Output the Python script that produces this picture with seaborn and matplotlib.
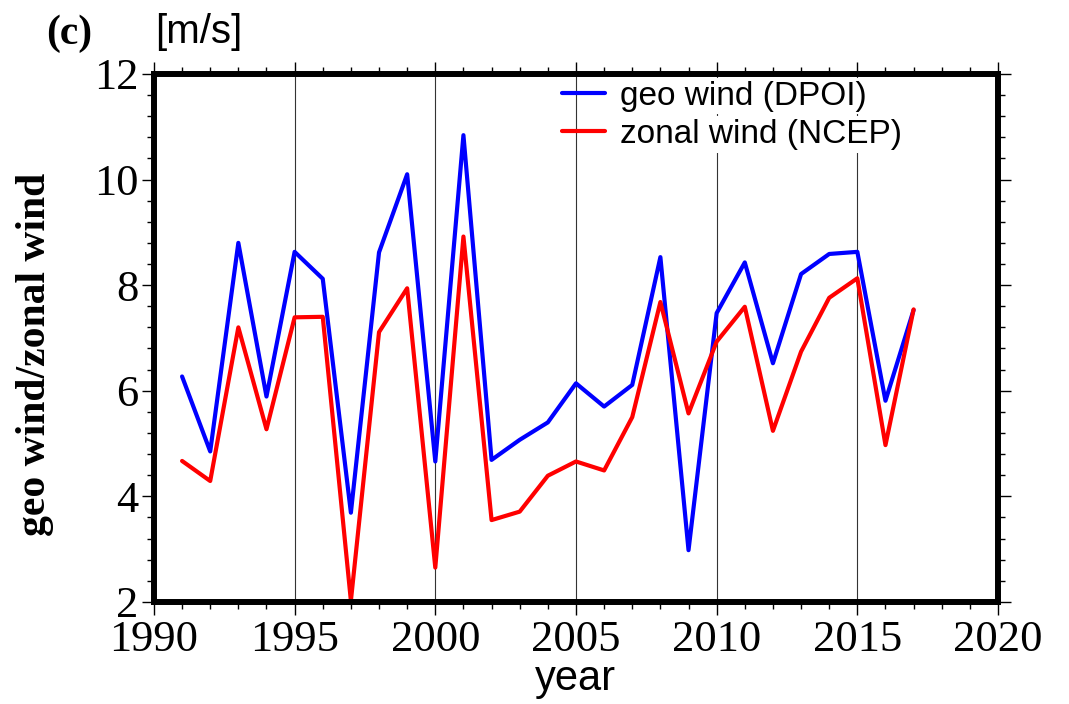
import numpy as np
import pandas as pd
import matplotlib
matplotlib.use("Agg")
import matplotlib.pyplot as plt
from matplotlib.ticker import MultipleLocator
from matplotlib.lines import Line2D
import seaborn as sns

# Annual mean wind speeds [m/s]
years = list(range(1991, 2018))
geo_wind_dpoi = [6.27, 4.85, 8.80, 5.89, 8.63, 8.12, 3.69, 8.62, 10.10, 4.66,
                 10.84, 4.69, 5.07, 5.40, 6.14, 5.70, 6.11, 8.53, 2.98, 7.47,
                 8.43, 6.52, 8.21, 8.59, 8.63, 5.81, 7.53]
zonal_wind_ncep = [4.67, 4.29, 7.20, 5.27, 7.39, 7.40, 2.02, 7.11, 7.94, 2.65,
                   8.92, 3.55, 3.71, 4.39, 4.66, 4.49, 5.50, 7.68, 5.57, 6.93,
                   7.59, 5.24, 6.74, 7.76, 8.13, 4.97, 7.54]
series_labels = ["geo wind (DPOI)", "zonal wind (NCEP)"]
series_colors = ["#0000ff", "#ff0000"]
x_ticks = [1990, 1995, 2000, 2005, 2010, 2015, 2020]
y_ticks = [2, 4, 6, 8, 10, 12]

df = pd.DataFrame({
    "year": years * 2,
    "wind": geo_wind_dpoi + zonal_wind_ncep,
    "series": [series_labels[0]] * len(years) + [series_labels[1]] * len(years),
})

sns.set_theme(style="white")
plt.rcParams["font.family"] = ["Liberation Serif", "DejaVu Serif"]
plt.rcParams.update({
    "text.color": "black",
    "axes.labelcolor": "black",
    "xtick.color": "black",
    "ytick.color": "black",
    "xtick.labelcolor": "black",
    "ytick.labelcolor": "black",
})

fig = plt.figure(figsize=(10.69, 7.04), dpi=100)
ax = fig.add_axes([0.144, 0.145, 0.7896, 0.750])

# vertical guide lines at the major years
for xv in x_ticks[1:-1]:
    ax.axvline(xv, color="#333333", lw=0.8, zorder=1)

sns.lineplot(data=df, x="year", y="wind", hue="series",
             palette=dict(zip(series_labels, series_colors)),
             linewidth=3.0, legend=False, ax=ax, zorder=3)

ax.set_xlim(1990, 2020)
ax.set_ylim(2, 12)
ax.set_xticks(x_ticks)
ax.set_yticks(y_ticks)
ax.xaxis.set_minor_locator(MultipleLocator(1))
ax.yaxis.set_minor_locator(MultipleLocator(0.4))
ax.tick_params(which="both", direction="out", top=True, right=True,
               bottom=True, left=True, color="black", width=1.0)
ax.tick_params(which="major", length=9, labelsize=32, pad=2,
               labelcolor="black")
ax.tick_params(axis="x", which="major", pad=4)
ax.tick_params(which="minor", length=5)
ax.tick_params(axis="y", labelright=False)
ax.tick_params(axis="x", labeltop=False)
for lab in ax.get_xticklabels() + ax.get_yticklabels():
    lab.set_family(["Liberation Serif"])

for sp in ax.spines.values():
    sp.set_visible(True)
    sp.set_color("black")
    sp.set_linewidth(4.3)
    sp.set_zorder(4)

ax.set_xlabel("")
ax.set_ylabel("")
fig.text(0.538, 0.035, "year", ha="center", va="center", fontsize=30,
         color="black", family=["Liberation Sans"])
fig.text(0.033, 0.497, "geo wind/zonal wind", rotation=90, ha="center",
         va="center", fontsize=30, fontweight="bold", color="black",
         family=["Liberation Serif"])
fig.text(0.145, 0.955, "[m/s]", ha="left", va="center", fontsize=29,
         color="black", family=["Liberation Sans"])
fig.text(0.043, 0.952, "(c)", ha="left", va="center", fontsize=30,
         fontweight="bold", color="black", family=["Liberation Serif"])

handles = [Line2D([0], [0], color=c, lw=3.0) for c in series_colors]
leg = ax.legend(handles, series_labels, loc="upper left",
                bbox_to_anchor=(0.4834, 0.987), frameon=False,
                prop={"family": "Liberation Sans", "size": 24},
                handlelength=1.3, handletextpad=0.45, labelspacing=0.22,
                borderpad=0.0, borderaxespad=0.0)
leg.set_zorder(5)
for t in leg.get_texts():
    t.set_color("black")
    t.set_bbox(dict(facecolor="white", edgecolor="none", pad=2))

fig.savefig("out.png", dpi=100)
